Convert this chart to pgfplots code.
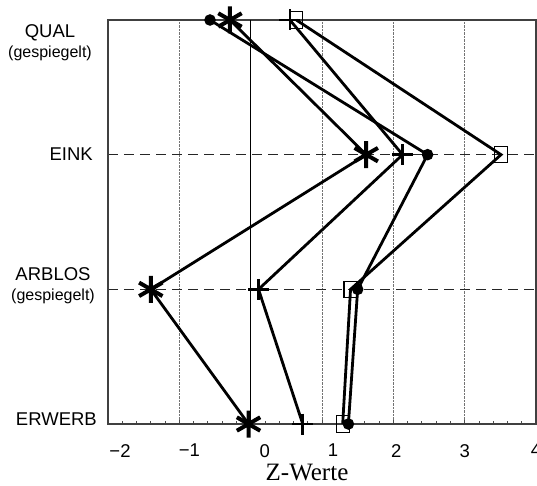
\documentclass[border=0pt]{standalone}
\usepackage{fontspec}
\setmainfont{Liberation Sans}
\newfontfamily\seriffont{Liberation Serif}
\usepackage{pgfplots}
\usepackage{pgfplotstable}
\pgfplotsset{compat=1.18}

% Profile values (Z-Werte) per indicator; pos: 4 = QUAL, 3 = EINK, 2 = ARBLOS, 1 = ERWERB
\pgfplotstableread{
pos z
4 -0.57
3 2.48
2 1.50
1 1.37
}\tabDot
\pgfplotstableread{
pos z
4 -0.29
3 1.62
2 -1.40
1 -0.03
}\tabStar
\pgfplotstableread{
pos z
4 0.55
3 2.13
2 0.11
1 0.73
}\tabPlus
\pgfplotstableread{
pos z
4 0.64
3 3.51
2 1.40
1 1.29
}\tabSquare

\newcommand{\catfont}{\fontsize{18.5}{20}\selectfont}
\newcommand{\subfont}{\fontsize{16}{20}\selectfont}

\begin{document}
\begin{tikzpicture}
\useasboundingbox (-108pt,-61pt) rectangle (429pt,424pt);
\begin{axis}[
  at={(0,0)}, anchor=south west,
  scale only axis, width=428pt, height=404pt,
  xmin=-2, xmax=4, ymin=1, ymax=4,
  xtick={-2,...,4},
  xticklabels={\hspace*{24pt}−2,\hspace*{20pt}−1,\hspace*{28pt}0,\hspace*{22pt}1,\hspace*{6pt}2,3,4},
  minor x tick num=4,
  ytick={2,3}, yticklabels={},
  xmajorgrids, ymajorgrids,
  major x grid style={densely dotted, black!55, line width=0.6pt},
  major y grid style={dash pattern=on 10pt off 6pt, black!85, line width=0.9pt},
  xtick pos=bottom,
  ytick style={draw=none},
  tick align=inside,
  major tick length=4pt, minor tick length=3pt,
  tick style={black!70, line width=0.8pt},
  xticklabel style={font=\fontsize{18.5}{18}\selectfont, inner sep=0pt, anchor=north, yshift=-20pt},
  xlabel={\seriffont Z-Werte},
  xlabel style={font=\fontsize{25}{25}\selectfont, inner sep=0pt,
                at={(axis description cs:0.465,0)}, anchor=base, yshift=-56pt},
  axis line style={line width=1.3pt, black!75},
  clip=false,
  every axis plot/.append style={line width=2.8pt, black},
]
% zero reference line
\draw[black, line width=0.9pt] (axis cs:0,1) -- (axis cs:0,4);

\addplot[mark=square, mark size=6.5pt,
  mark options={line width=1.2pt, fill=none, yscale=1.25}]
  table[x=z, y=pos] {\tabSquare};
\addplot[mark=+, mark size=10.5pt, mark options={line width=2.8pt}]
  table[x=z, y=pos] {\tabPlus};
\addplot[mark=asterisk, mark size=13.5pt, mark options={line width=4pt}]
  table[x=z, y=pos] {\tabStar};
\addplot[mark=*, mark size=4.3pt, mark options={fill=black}]
  table[x=z, y=pos] {\tabDot};

% category labels
\node[anchor=north east, align=center, inner sep=0pt, font=\catfont]
  at (rel axis cs:0,1) [xshift=-16pt, yshift=-4pt] {QUAL\\{\subfont (gespiegelt)}};
\node[anchor=north east, inner sep=0pt, font=\catfont]
  at (axis cs:-2,3) [xshift=-15pt, yshift=7pt] {EINK};
\node[anchor=north east, align=center, inner sep=0pt, font=\catfont]
  at (axis cs:-2,2) [xshift=-13pt, yshift=22pt] {ARBLOS\\{\subfont (gespiegelt)}};
\node[anchor=north east, inner sep=0pt, font=\catfont]
  at (axis cs:-2,1) [xshift=-11pt, yshift=11pt] {ERWERB};
\end{axis}
\end{tikzpicture}
\end{document}
